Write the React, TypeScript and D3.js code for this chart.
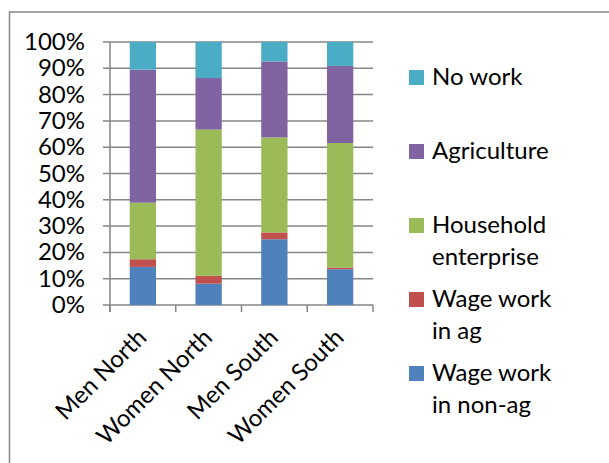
import React, {useEffect, useRef} from "react";
import * as d3 from "d3";

const categories = ["Men North", "Women North", "Men South", "Women South"];
const wageNonAg = [14.5, 8.1, 25.0, 13.6];
const wageAg = [2.9, 3.0, 2.6, 0.6];
const household = [21.5, 55.6, 36.1, 47.4];
const agriculture = [50.6, 19.6, 28.9, 29.3];
const noWork = [10.5, 13.7, 7.4, 9.1];

const seriesKeys = ["wageNonAg", "wageAg", "household", "agriculture", "noWork"];
const seriesLabels = [["Wage work", "in non-ag"], ["Wage work", "in ag"], ["Household", "enterprise"], ["Agriculture"], ["No work"]];
const seriesColors = ["#4F81BD", "#C0504D", "#9BBB59", "#8064A2", "#4BACC6"];
const yTicks = [0, 10, 20, 30, 40, 50, 60, 70, 80, 90, 100];

const FONT = "Lato, 'Open Sans', sans-serif";

const App: React.FC = () => {
    const svgRef = useRef<SVGSVGElement | null>(null);

    useEffect(() => {
        if (!svgRef.current) return;
        const svg = d3.select(svgRef.current);
        svg.selectAll("*").remove();

        const width = 609;
        const height = 463;
        const plot = {left: 110, right: 373, top: 42, bottom: 305};

        // outer chart border (cut off on the right and bottom)
        svg.append("rect")
            .attr("x", 9.5).attr("y", 12)
            .attr("width", width).attr("height", height)
            .attr("fill", "white")
            .attr("stroke", "#868686")
            .attr("stroke-width", 1.5);

        const rows = categories.map((c, i) => ({
            category: c,
            wageNonAg: wageNonAg[i],
            wageAg: wageAg[i],
            household: household[i],
            agriculture: agriculture[i],
            noWork: noWork[i],
        }));

        const stacked = d3.stack<any>().keys(seriesKeys)(rows);

        const x = d3.scaleBand()
            .domain(categories)
            .range([plot.left, plot.right])
            .padding(0);

        const y = d3.scaleLinear()
            .domain([0, 100])
            .range([plot.bottom, plot.top]);

        // gridlines + y ticks
        svg.append("g")
            .selectAll("line")
            .data(yTicks)
            .join("line")
            .attr("x1", plot.left - 7)
            .attr("x2", plot.right)
            .attr("y1", (d) => y(d))
            .attr("y2", (d) => y(d))
            .attr("stroke", "#868686")
            .attr("stroke-width", 1.5);

        svg.append("g")
            .selectAll("text")
            .data(yTicks)
            .join("text")
            .attr("x", 85)
            .attr("y", (d) => y(d) + 8)
            .attr("text-anchor", "end")
            .attr("font-family", FONT)
            .attr("font-size", 24)
            .attr("fill", "#000")
            .text((d) => `${d}%`);

        // bars
        const barW = x.bandwidth() * 0.4;
        svg.append("g")
            .selectAll("g")
            .data(stacked)
            .join("g")
            .attr("fill", (_, i) => seriesColors[i])
            .selectAll("rect")
            .data((d) => d)
            .join("rect")
            .attr("x", (d) => (x(d.data.category) || 0) + (x.bandwidth() - barW) / 2)
            .attr("y", (d) => y(d[1]))
            .attr("width", barW)
            .attr("height", (d) => y(d[0]) - y(d[1]));

        // axes
        svg.append("line")
            .attr("x1", plot.left).attr("x2", plot.left)
            .attr("y1", plot.top).attr("y2", plot.bottom + 7)
            .attr("stroke", "#868686").attr("stroke-width", 1.5);

        const boundaries = categories.map((c) => x(c) || 0).concat([plot.right]);
        svg.append("g")
            .selectAll("line")
            .data(boundaries)
            .join("line")
            .attr("x1", (d) => d).attr("x2", (d) => d)
            .attr("y1", plot.bottom).attr("y2", plot.bottom + 7)
            .attr("stroke", "#868686").attr("stroke-width", 1.5);

        svg.append("g")
            .selectAll("text")
            .data(categories)
            .join("text")
            .attr("transform", (d) => `translate(${(x(d) || 0) + x.bandwidth() / 2 + 5},339) rotate(-45)`)
            .attr("text-anchor", "end")
            .attr("font-family", FONT)
            .attr("font-size", 24)
            .attr("fill", "#000")
            .text((d) => d);

        // legend, top to bottom in reverse stack order
        const legendBase = [381, 307, 233, 159, 85];
        const legend = svg.append("g")
            .selectAll("g")
            .data(seriesKeys.map((k, i) => ({k, i})))
            .join("g")
            .attr("transform", (d) => `translate(409,${legendBase[d.i]})`);

        legend.append("rect")
            .attr("x", 0).attr("y", -15)
            .attr("width", 15).attr("height", 15)
            .attr("fill", (d) => seriesColors[d.i]);

        legend.append("text")
            .attr("x", 23)
            .attr("y", 0)
            .attr("font-family", FONT)
            .attr("font-size", 24)
            .attr("fill", "#000")
            .selectAll("tspan")
            .data((d) => seriesLabels[d.i])
            .join("tspan")
            .attr("x", 23)
            .attr("dy", (_, j) => (j === 0 ? 0 : 32))
            .text((t) => t);
    }, []);

    return (
        <svg
            ref={svgRef}
            width={609}
            height={463}
            style={{position: "absolute", left: 0, top: 0, background: "white"}}
        ></svg>
    );
};

export default App;
